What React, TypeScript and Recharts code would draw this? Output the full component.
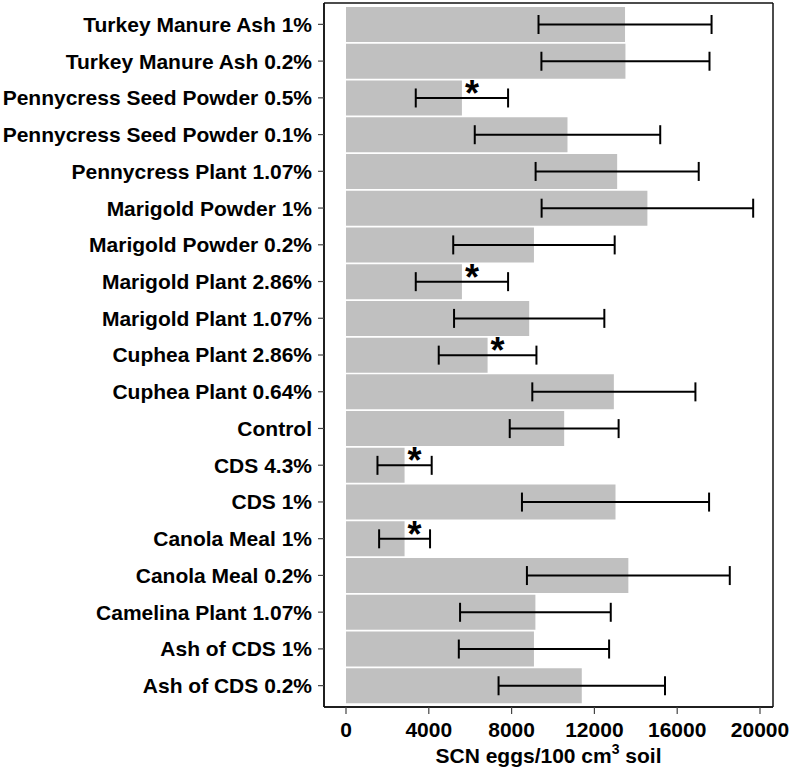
import {
  Bar,
  BarChart,
  CartesianGrid,
  ErrorBar,
  LabelList,
  XAxis,
  YAxis,
} from "recharts";

const treatments = [
  "Turkey Manure Ash 1%",
  "Turkey Manure Ash 0.2%",
  "Pennycress Seed Powder 0.5%",
  "Pennycress Seed Powder 0.1%",
  "Pennycress Plant 1.07%",
  "Marigold Powder 1%",
  "Marigold Powder 0.2%",
  "Marigold Plant 2.86%",
  "Marigold Plant 1.07%",
  "Cuphea Plant 2.86%",
  "Cuphea Plant 0.64%",
  "Control",
  "CDS 4.3%",
  "CDS 1%",
  "Canola Meal 1%",
  "Canola Meal 0.2%",
  "Camelina Plant 1.07%",
  "Ash of CDS 1%",
  "Ash of CDS 0.2%",
];

// mean SCN eggs / 100 cm3 soil
const eggs = [
  13480, 13500, 5600, 10700, 13100, 14560, 9080, 5600, 8850, 6840, 12940,
  10540, 2830, 13020, 2830, 13640, 9150, 9080, 11390,
];

// error bar half-width
const errors = [
  4180, 4060, 2230, 4480, 3940, 5110, 3900, 2230, 3630, 2360, 3940, 2630,
  1310, 4520, 1230, 4900, 3640, 3630, 4020,
];

// significantly different from control
const significant = [
  false, false, true, false, false, false, false, true, false, true, false,
  false, true, false, true, false, false, false, false,
];

const xTicks = [0, 4000, 8000, 12000, 16000, 20000];

const data = treatments.map((name, i) => ({
  name,
  eggs: eggs[i],
  err: errors[i],
  star: significant[i] ? "*" : "",
}));

const font = "'Liberation Sans', Arial, Helvetica, sans-serif";

function Star(props: any) {
  const { x, y, width, height, value } = props;
  if (!value) return null;
  return (
    <text
      x={x + width + 10}
      y={y + height / 2 + 8}
      textAnchor="middle"
      fontFamily={font}
      fontWeight="bold"
      fontSize={36}
      fill="#000"
    >
      {value}
    </text>
  );
}

function AxisTitle(props: any) {
  const { x, y, width } = props.viewBox;
  return (
    <text
      x={x + width / 2}
      y={y + 56}
      textAnchor="middle"
      fontFamily={font}
      fontWeight="bold"
      fontSize={21}
      fill="#000"
    >
      SCN eggs/100 cm
      <tspan dy={-9} fontSize={14}>
        3
      </tspan>
      <tspan dy={9}> soil</tspan>
    </text>
  );
}

// frame around the plot region
const frameX = ({ offset }: any) => [offset.left, offset.left + offset.width];
const frameY = ({ offset }: any) => [offset.top, offset.top + offset.height];

export default function App() {
  return (
    <div style={{ position: "absolute", left: 0, top: 0, background: "#fff" }}>
      <BarChart
        width={793}
        height={771}
        data={data}
        layout="vertical"
        margin={{ top: 3, right: 20, bottom: 0, left: 0 }}
        barSize={35}
      >
        <CartesianGrid
          stroke="#111"
          strokeWidth={1.5}
          verticalCoordinatesGenerator={frameX}
          horizontalCoordinatesGenerator={frameY}
        />
        <XAxis
          type="number"
          domain={[0, 20000]}
          ticks={xTicks}
          padding={{ left: 22, right: 13 }}
          height={64}
          tickSize={7}
          tickMargin={8}
          axisLine={{ stroke: "#111", strokeWidth: 1.5 }}
          tickLine={{ stroke: "#444", strokeWidth: 1.2 }}
          tick={{ fill: "#000", fontSize: 21, fontFamily: font, fontWeight: "bold" }}
          label={<AxisTitle />}
        />
        <YAxis
          type="category"
          dataKey="name"
          width={324}
          interval={0}
          padding={{ top: 3, bottom: 3 }}
          tickSize={6}
          tickMargin={6}
          axisLine={{ stroke: "#111", strokeWidth: 1.5 }}
          tickLine={{ stroke: "#444", strokeWidth: 1.2 }}
          tick={{ fill: "#000", fontSize: 21, fontFamily: font, fontWeight: "bold" }}
        />
        <Bar dataKey="eggs" fill="#c0c0c0" isAnimationActive={false}>
          <ErrorBar
            dataKey="err"
            direction="x"
            width={9.5}
            stroke="#000"
            strokeWidth={2}
          />
          <LabelList dataKey="star" content={<Star />} />
        </Bar>
      </BarChart>
    </div>
  );
}
